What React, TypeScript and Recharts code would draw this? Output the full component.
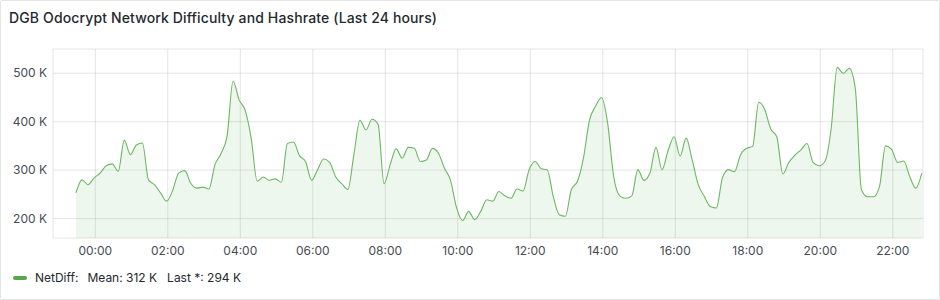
import { AreaChart, Area, XAxis, YAxis, CartesianGrid } from 'recharts'

// NetDiff samples in K, every 10 minutes, first sample at 23:28 the day before
const startMinute = -32
const stepMinutes = 10
const netDiff = [
  253, 280, 270, 284, 294, 309, 313, 298, 362, 332,
  352, 356, 280, 270, 253, 236, 258, 294, 299, 273,
  263, 265, 261, 311, 334, 369, 484, 445, 424, 366,
  277, 286, 279, 282, 275, 355, 358, 330, 318, 279,
  301, 323, 316, 286, 272, 260, 332, 403, 383, 405,
  395, 272, 311, 344, 325, 347, 345, 318, 321, 345,
  335, 304, 279, 222, 196, 215, 198, 215, 239, 236,
  256, 247, 242, 261, 257, 301, 318, 303, 301, 246,
  208, 205, 260, 277, 325, 403, 432, 450, 397, 287,
  247, 242, 247, 301, 279, 294, 347, 301, 340, 369,
  329, 366, 321, 270, 246, 225, 222, 284, 301, 297,
  332, 345, 349, 440, 425, 385, 369, 292, 316, 331,
  342, 355, 316, 309, 319, 386, 512, 500, 510, 468,
  260, 245, 245, 266, 350, 343, 316, 319, 287, 263,
  294,
]

// time range: 22:50 yesterday to 22:50 today, in minutes from midnight
const timeRange = [-70, 1370]
const timeTicks = [0, 120, 240, 360, 480, 600, 720, 840, 960, 1080, 1200, 1320]
const diffTicks = [200, 300, 400, 500]
const diffRange = [160, 550]

const title = 'DGB Odocrypt Network Difficulty and Hashrate (Last 24 hours)'
const seriesName = 'NetDiff'
const meanLabel = 'Mean: 312 K'
const lastLabel = 'Last *: 294 K'

const data = netDiff.map((v, i) => ({ t: startMinute + i * stepMinutes, v }))

const green = '#6cb862'
const font = 'Inter, "Noto Sans", sans-serif'
const tickStyle = { fontSize: 12, fill: '#464c54', fontFamily: font }

const fmtTime = (m: number) => {
  const h = Math.floor(((m % 1440) + 1440) % 1440 / 60)
  return `${String(h).padStart(2, '0')}:00`
}

export default function App() {
  return (
    <div
      style={{
        position: 'absolute',
        left: 0,
        top: 0,
        width: 940,
        height: 300,
        boxSizing: 'border-box',
        border: '1px solid rgba(36,41,46,0.12)',
        borderRadius: 2,
        background: '#fff',
        fontFamily: font,
      }}
    >
      <div
        style={{
          position: 'absolute',
          left: 8,
          top: 7,
          fontSize: 14,
          fontWeight: 500,
          letterSpacing: 0.13,
          color: '#24292e',
          lineHeight: '20px',
        }}
      >
        {title}
      </div>
      <div style={{ position: 'absolute', left: -1, top: -1 }}>
        <AreaChart
          width={940}
          height={300}
          data={data}
          margin={{ top: 49, right: 17, bottom: 32, left: 0 }}
        >
          <CartesianGrid stroke="rgba(36,41,46,0.12)" />
          <XAxis
            dataKey="t"
            type="number"
            domain={timeRange}
            ticks={timeTicks}
            tickFormatter={fmtTime}
            tick={tickStyle}
            axisLine={false}
            tickLine={false}
            height={30}
            allowDataOverflow
          />
          <YAxis
            type="number"
            domain={diffRange}
            ticks={diffTicks}
            tickFormatter={(v: number) => `${v} K`}
            tick={tickStyle}
            axisLine={false}
            tickLine={false}
            tickMargin={0}
            width={53}
            allowDataOverflow
          />
          <Area
            type="monotone"
            dataKey="v"
            stroke={green}
            strokeWidth={1.1}
            fill="#73BF69"
            fillOpacity={0.12}
            baseValue="dataMin"
            isAnimationActive={false}
            dot={false}
            activeDot={false}
          />
        </AreaChart>
      </div>
      <div
        style={{
          position: 'absolute',
          left: 12,
          top: 268,
          display: 'flex',
          alignItems: 'center',
          fontSize: 12,
          color: '#24292e',
          lineHeight: '18px',
        }}
      >
        <span
          style={{
            width: 14,
            height: 4,
            borderRadius: 2,
            background: '#56a64b',
            display: 'inline-block',
            marginRight: 8,
          }}
        />
        <span>{seriesName}:</span>
        <span style={{ marginLeft: 9 }}>{meanLabel}</span>
        <span style={{ marginLeft: 10 }}>{lastLabel}</span>
      </div>
    </div>
  )
}
